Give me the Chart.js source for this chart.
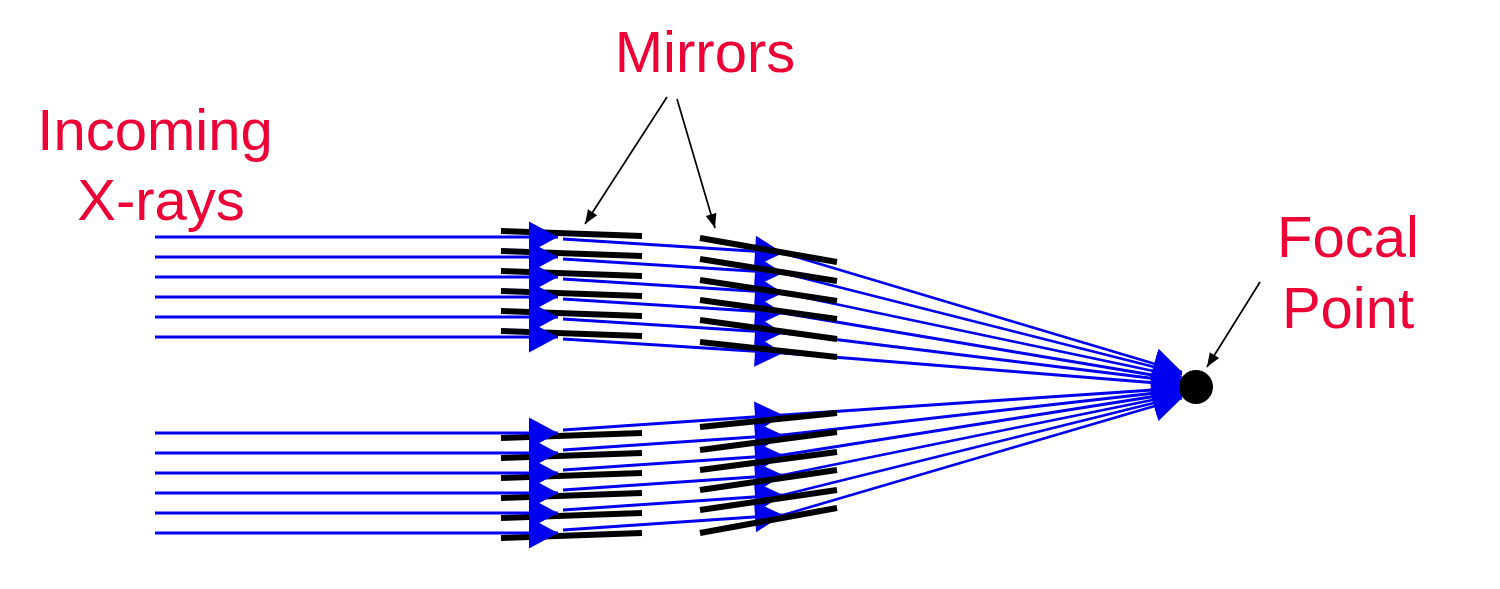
<!DOCTYPE html>
<html>
<head>
<meta charset="utf-8">
<script src="https://cdn.jsdelivr.net/npm/chart.js@4.4.1/dist/chart.umd.min.js"></script>
<style>
  html, body { margin: 0; padding: 0; background: #ffffff; }
  #wrap { position: relative; width: 1500px; height: 589px; overflow: hidden; }
  #wrap canvas { position: absolute; left: 0; top: 0; }
  .lbl { position: absolute; width: 400px; text-align: center; font-family: "Liberation Sans", Arial, sans-serif;
         font-size: 58px; line-height: 1; color: #ec0036; white-space: nowrap; }
</style>
</head>
<body>
<div id="wrap">
  <canvas id="c" width="1500" height="589"></canvas>
  <div class="lbl" style="left:505px; top:23px;">Mirrors</div>
  <div class="lbl" style="left:-45px; top:101px;">Incoming</div>
  <div class="lbl" style="left:-39px; top:171px;">X-rays</div>
  <div class="lbl" style="left:1148px; top:208px;">Focal</div>
  <div class="lbl" style="left:1148px; top:279px;">Point</div>
</div>
<script>
// ---- diagram values (in picture units: x across, y down) ----
const incomingX = [155, 558];
const incomingY = [237, 257, 277, 297, 317, 337, 433, 453, 473, 493, 513, 533];

const mirror1X = [501, 642];
const mirror1LeftY = [231, 251, 271, 291, 311, 331, 438, 458, 478, 498, 518, 538];
const mirror1RightY = [236, 256, 276, 296, 316, 336, 433, 453, 473, 493, 513, 533];

const reflect1X = [563, 783];
const reflect1StartY = [239, 259, 279, 299, 319, 339, 430, 450, 470, 490, 510, 530];
const reflect1EndY = [253, 273, 293, 313, 333, 353, 415, 435, 455, 475, 495, 515];

const mirror2X = [700, 837];
const mirror2LeftY = [238, 259, 280, 300, 320, 342, 427, 450, 470, 490, 510, 533];
const mirror2RightY = [262, 281, 301, 319, 339, 357, 413, 432, 452, 470, 490, 508];

const focusTipX = 1182;
const focusTipY = [372, 374, 377, 380, 382, 385, 388, 390, 392, 394, 396, 398];

const focalPoint = { x: 1196, y: 387 };

const pointerStartX = [667, 677, 1260];
const pointerStartY = [97, 99, 282];
const pointerEndX = [585, 715, 1207];
const pointerEndY = [224, 228, 367];

// ---- styles ----
const BLUE = 'rgb(0,0,240)';
const BLACK = '#000000';

const datasets = [];
function seg(x0, y0, x1, y1, color, width, order, arrow) {
  const d = {
    data: [{ x: x0, y: y0 }, { x: x1, y: y1 }],
    showLine: true,
    borderColor: color,
    backgroundColor: color,
    borderWidth: width,
    pointRadius: 0,
    fill: false,
    clip: false,
    order: order
  };
  if (arrow) { d.arrowLength = arrow[0]; d.arrowWidth = arrow[1]; }
  datasets.push(d);
}

// order: lower = drawn on top
for (let i = 0; i < incomingY.length; i++) {
  seg(mirror1X[0], mirror1LeftY[i], mirror1X[1], mirror1RightY[i], BLACK, 6, 90, null);
}
for (let i = 0; i < incomingY.length; i++) {
  seg(incomingX[0], incomingY[i], incomingX[1], incomingY[i], BLUE, 2.8, 80, [29, 31]);
}
for (let i = 0; i < incomingY.length; i++) {
  seg(reflect1X[0], reflect1StartY[i], reflect1X[1], reflect1EndY[i], BLUE, 2.8, 70, [28, 31]);
}
for (let i = 0; i < incomingY.length; i++) {
  seg(reflect1X[1], reflect1EndY[i], focusTipX, focusTipY[i], BLUE, 2.8, 60, [29, 31]);
}
for (let i = 0; i < incomingY.length; i++) {
  seg(mirror2X[0], mirror2LeftY[i], mirror2X[1], mirror2RightY[i], BLACK, 6, 50, null);
}
for (let i = 0; i < pointerStartX.length; i++) {
  seg(pointerStartX[i], pointerStartY[i], pointerEndX[i], pointerEndY[i], BLACK, 1.7, 20, [14, 11]);
}
datasets.push({
  data: [focalPoint],
  showLine: false,
  pointRadius: 17,
  pointBackgroundColor: BLACK,
  pointBorderColor: BLACK,
  pointBorderWidth: 0,
  clip: false,
  order: 10
});

const arrowPlugin = {
  id: 'arrowheads',
  afterDatasetDraw(chart, args) {
    const ds = chart.data.datasets[args.index];
    if (!ds.arrowLength) return;
    const pts = args.meta.data;
    if (pts.length < 2) return;
    const a = pts[pts.length - 2], b = pts[pts.length - 1];
    const dx = b.x - a.x, dy = b.y - a.y;
    const len = Math.hypot(dx, dy) || 1;
    const ux = dx / len, uy = dy / len;
    const px = -uy, py = ux;
    const L = ds.arrowLength, W = ds.arrowWidth / 2;
    const bx = b.x - ux * L, by = b.y - uy * L;
    const ctx = chart.ctx;
    ctx.save();
    ctx.fillStyle = ds.borderColor;
    ctx.beginPath();
    ctx.moveTo(b.x, b.y);
    ctx.lineTo(bx + px * W, by + py * W);
    ctx.lineTo(bx - px * W, by - py * W);
    ctx.closePath();
    ctx.fill();
    ctx.restore();
  }
};

new Chart(document.getElementById('c'), {
  type: 'scatter',
  data: { datasets: datasets },
  options: {
    responsive: false,
    animation: false,
    events: [],
    layout: { padding: 0, autoPadding: false },
    plugins: { legend: { display: false }, tooltip: { enabled: false } },
    scales: {
      x: { type: 'linear', min: 0, max: 1500, display: false },
      y: { type: 'linear', min: 0, max: 589, reverse: true, display: false }
    }
  },
  plugins: [arrowPlugin]
});
</script>
</body>
</html>
